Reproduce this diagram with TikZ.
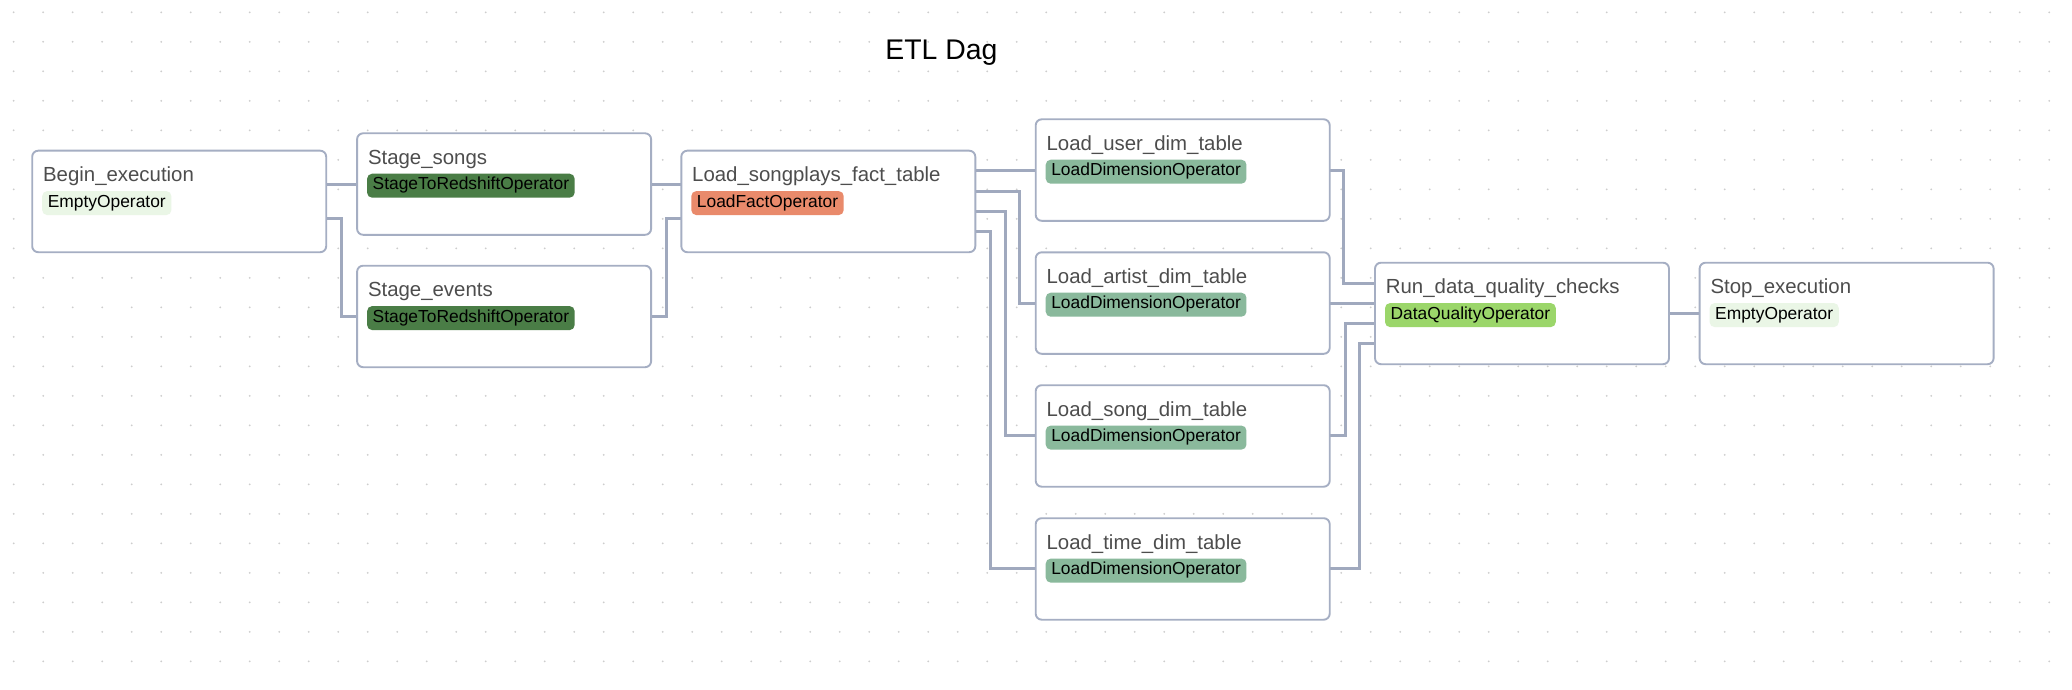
\documentclass[tikz,border=0pt]{standalone}
\usepackage{fontspec}
\setmainfont{Liberation Sans}
\usetikzlibrary{calc}
\pgfdeclarelayer{bg}
\pgfsetlayers{bg,main}
\definecolor{bordercol}{HTML}{A5AEC3}
\definecolor{edgecol}{HTML}{A0A9BE}
\definecolor{titlecol}{HTML}{4D4D4D}
\definecolor{dotcol}{HTML}{CDCDCD}
\definecolor{emptycol}{HTML}{EAF6E6}
\definecolor{stagecol}{HTML}{4A7D46}
\definecolor{factcol}{HTML}{E98A6B}
\definecolor{dimcol}{HTML}{8AB99C}
\definecolor{dqcol}{HTML}{9BD66A}
\newcommand\mktask[6]{%
  \node[taskbox] (#1) at (#2,#3) {};
  \node[tasktitle] (#1-t) at ($(#1.north west)+(10.5,31)$) {#4};
  \node[badge, fill=#6] (#1-b) at ($(#1.north west)+(9.6,40)$) {#5};
}
\begin{document}
\begin{tikzpicture}[x=0.5pt,y=-0.5pt,
  taskbox/.style={draw=bordercol, line width=0.95pt, fill=white, rounded corners=3pt,
    minimum width=147pt, minimum height=50.75pt, inner sep=0pt, outer sep=0pt, anchor=north west},
  tasktitle/.style={anchor=base west, inner sep=0pt, text=titlecol, font=\fontsize{10.2pt}{12pt}\selectfont},
  badge/.style={anchor=north west, inner xsep=2.8pt, inner ysep=0pt, text height=8pt, text depth=4pt,
    rounded corners=2.5pt, font=\fontsize{8.7pt}{10pt}\selectfont, text=black},
  conn/.style={draw=edgecol, line width=1.5pt}
]
\useasboundingbox (0,0) rectangle (2072,690);
\begin{pgfonlayer}{bg}
  \fill[white] (0,0) rectangle (2072,690);
  \foreach \i in {0,...,69} {
    \foreach \j in {0,...,22} {
      \fill[dotcol] (13.7+29.5*\i, 12.3+29.5*\j) circle (0.5pt);
    }
  }
\end{pgfonlayer}

\node[anchor=base west, inner sep=0pt, font=\fontsize{14.2pt}{16pt}\selectfont] (title) at (885,59.3) {ETL Dag};

\mktask{begin}{32.2}{150.7}{Begin\_execution}{EmptyOperator}{emptycol}
\mktask{songs}{357.1}{133.3}{Stage\_songs}{StageToRedshiftOperator}{stagecol}
\mktask{events}{357.1}{265.7}{Stage\_events}{StageToRedshiftOperator}{stagecol}
\mktask{fact}{681.3}{150.7}{Load\_songplays\_fact\_table}{LoadFactOperator}{factcol}
\mktask{user}{1035.7}{119.3}{Load\_user\_dim\_table}{LoadDimensionOperator}{dimcol}
\mktask{artist}{1035.7}{252.3}{Load\_artist\_dim\_table}{LoadDimensionOperator}{dimcol}
\mktask{song}{1035.7}{385.2}{Load\_song\_dim\_table}{LoadDimensionOperator}{dimcol}
\mktask{time}{1035.7}{518.2}{Load\_time\_dim\_table}{LoadDimensionOperator}{dimcol}
\mktask{run}{1375}{262.7}{Run\_data\_quality\_checks}{DataQualityOperator}{dqcol}
\mktask{stop}{1699.6}{262.7}{Stop\_execution}{EmptyOperator}{emptycol}

\coordinate (bo1) at ($(begin.north east)!1/3!(begin.south east)$);
\coordinate (bo2) at ($(begin.north east)!2/3!(begin.south east)$);
\coordinate (fi2) at ($(fact.north west)!2/3!(fact.south west)$);
\coordinate (fo1) at ($(fact.north east)!1/5!(fact.south east)$);
\coordinate (fo2) at ($(fact.north east)!2/5!(fact.south east)$);
\coordinate (fo3) at ($(fact.north east)!3/5!(fact.south east)$);
\coordinate (fo4) at ($(fact.north east)!4/5!(fact.south east)$);
\coordinate (ri1) at ($(run.north west)!1/5!(run.south west)$);
\coordinate (ri3) at ($(run.north west)!3/5!(run.south west)$);
\coordinate (ri4) at ($(run.north west)!4/5!(run.south west)$);

\begin{pgfonlayer}{bg}
  \draw[conn] (bo1) -- (bo1 -| songs.west);
  \draw[conn] (bo2) -- ++(15.5,0) |- (events.west);
  \draw[conn] (songs.east) -- (songs.east -| fact.west);
  \draw[conn] (events.east) -- ++(15.5,0) |- (fi2);
  \draw[conn] (fo1) -- (fo1 -| user.west);
  \draw[conn] (fo2) -- ++(44.4,0) |- (artist.west);
  \draw[conn] (fo3) -- ++(29.8,0) |- (song.west);
  \draw[conn] (fo4) -- ++(14.8,0) |- (time.west);
  \draw[conn] (user.east) -- ++(14,0) |- (ri1);
  \draw[conn] (artist.east) -- (artist.east -| run.west);
  \draw[conn] (song.east) -- ++(15.3,0) |- (ri3);
  \draw[conn] (time.east) -- ++(29.7,0) |- (ri4);
  \draw[conn] (run.east) -- (stop.west);
\end{pgfonlayer}
\end{tikzpicture}
\end{document}
